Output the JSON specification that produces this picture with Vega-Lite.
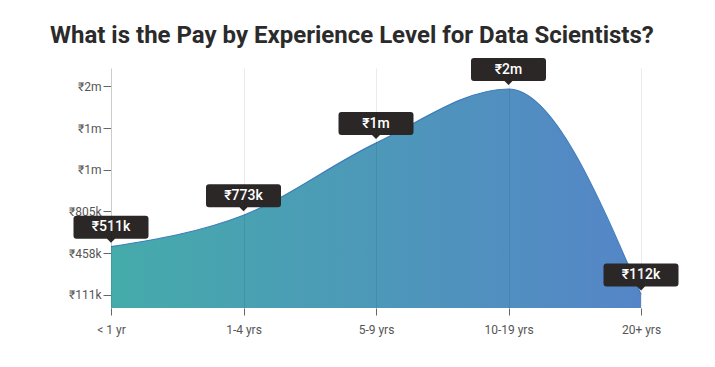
{
  "$schema": "https://vega.github.io/schema/vega-lite/v6.json",
  "width": 530,
  "height": 240,
  "autosize": {"type": "none"},
  "padding": {"left": 111, "top": 68, "right": 74, "bottom": 59},
  "background": "#ffffff",
  "title": {
    "text": "What is the Pay by Experience Level for Data Scientists?",
    "anchor": "start",
    "frame": "group",
    "dx": -61,
    "offset": 10,
    "font": "Roboto",
    "fontSize": 24,
    "fontWeight": "bold",
    "color": "#2b2b2b"
  },
  "config": {"view": {"stroke": null}},
  "data": {
    "values": [
      {"exp": "< 1 yr", "pay": 511000, "label": "₹511k"},
      {"exp": "1-4 yrs", "pay": 773000, "label": "₹773k"},
      {"exp": "5-9 yrs", "pay": 1374000, "label": "₹1m"},
      {"exp": "10-19 yrs", "pay": 1825000, "label": "₹2m"},
      {"exp": "20+ yrs", "pay": 112000, "label": "₹112k"}
    ]
  },
  "encoding": {
    "x": {
      "field": "exp",
      "type": "ordinal",
      "sort": null,
      "scale": {"type": "point", "padding": 0},
      "axis": {
        "title": null,
        "labelAngle": 0,
        "labelFont": "Roboto",
        "labelFontSize": 12,
        "labelColor": "#555555",
        "labelPadding": 9,
        "tickColor": "#666666",
        "tickSize": 7,
        "domain": false,
        "grid": true,
        "gridColor": "#000000",
        "gridOpacity": 0.08,
        "zindex": 1
      }
    },
    "y": {
      "field": "pay",
      "type": "quantitative",
      "scale": {"domain": [0, 2000000], "nice": false},
      "axis": {
        "title": null,
        "values": [111000, 458000, 805000, 1152000, 1499000, 1846000],
        "labelExpr": "datum.value >= 1000000 ? '₹' + format(datum.value / 1000000, '.0f') + 'm' : '₹' + format(datum.value / 1000, '.0f') + 'k'",
        "labelFont": "Roboto",
        "labelFontSize": 12,
        "labelColor": "#555555",
        "labelPadding": 2,
        "tickColor": "#666666",
        "tickSize": 8,
        "grid": false,
        "domain": true,
        "domainColor": "#dddddd"
      }
    }
  },
  "layer": [
    {
      "mark": {
        "type": "area",
        "interpolate": "monotone",
        "opacity": 1,
        "fill": {
          "x1": 0, "y1": 0, "x2": 1, "y2": 0,
          "gradient": "linear",
          "stops": [
            {"offset": 0, "color": "#45abaa"},
            {"offset": 1, "color": "#5585c8"}
          ]
        },
        "line": {"color": "#3e7dbd", "strokeWidth": 1.2}
      }
    },
    {
      "mark": {
        "type": "point",
        "filled": true,
        "opacity": 1,
        "size": 6400,
        "color": "#2b2727",
        "strokeWidth": 0,
        "shape": "M-0.8625,-0.775 H0.8625 Q0.9375,-0.775 0.9375,-0.7 V-0.275 Q0.9375,-0.2 0.8625,-0.2 H0.1 L0,-0.1 L-0.1,-0.2 H-0.8625 Q-0.9375,-0.2 -0.9375,-0.275 V-0.7 Q-0.9375,-0.775 -0.8625,-0.775 Z"
      }
    },
    {
      "mark": {
        "type": "text",
        "color": "#ffffff",
        "font": "Roboto",
        "fontSize": 14,
        "fontWeight": 500,
        "baseline": "middle",
        "align": "center",
        "dy": -19.5
      },
      "encoding": {"text": {"field": "label"}}
    }
  ]
}
